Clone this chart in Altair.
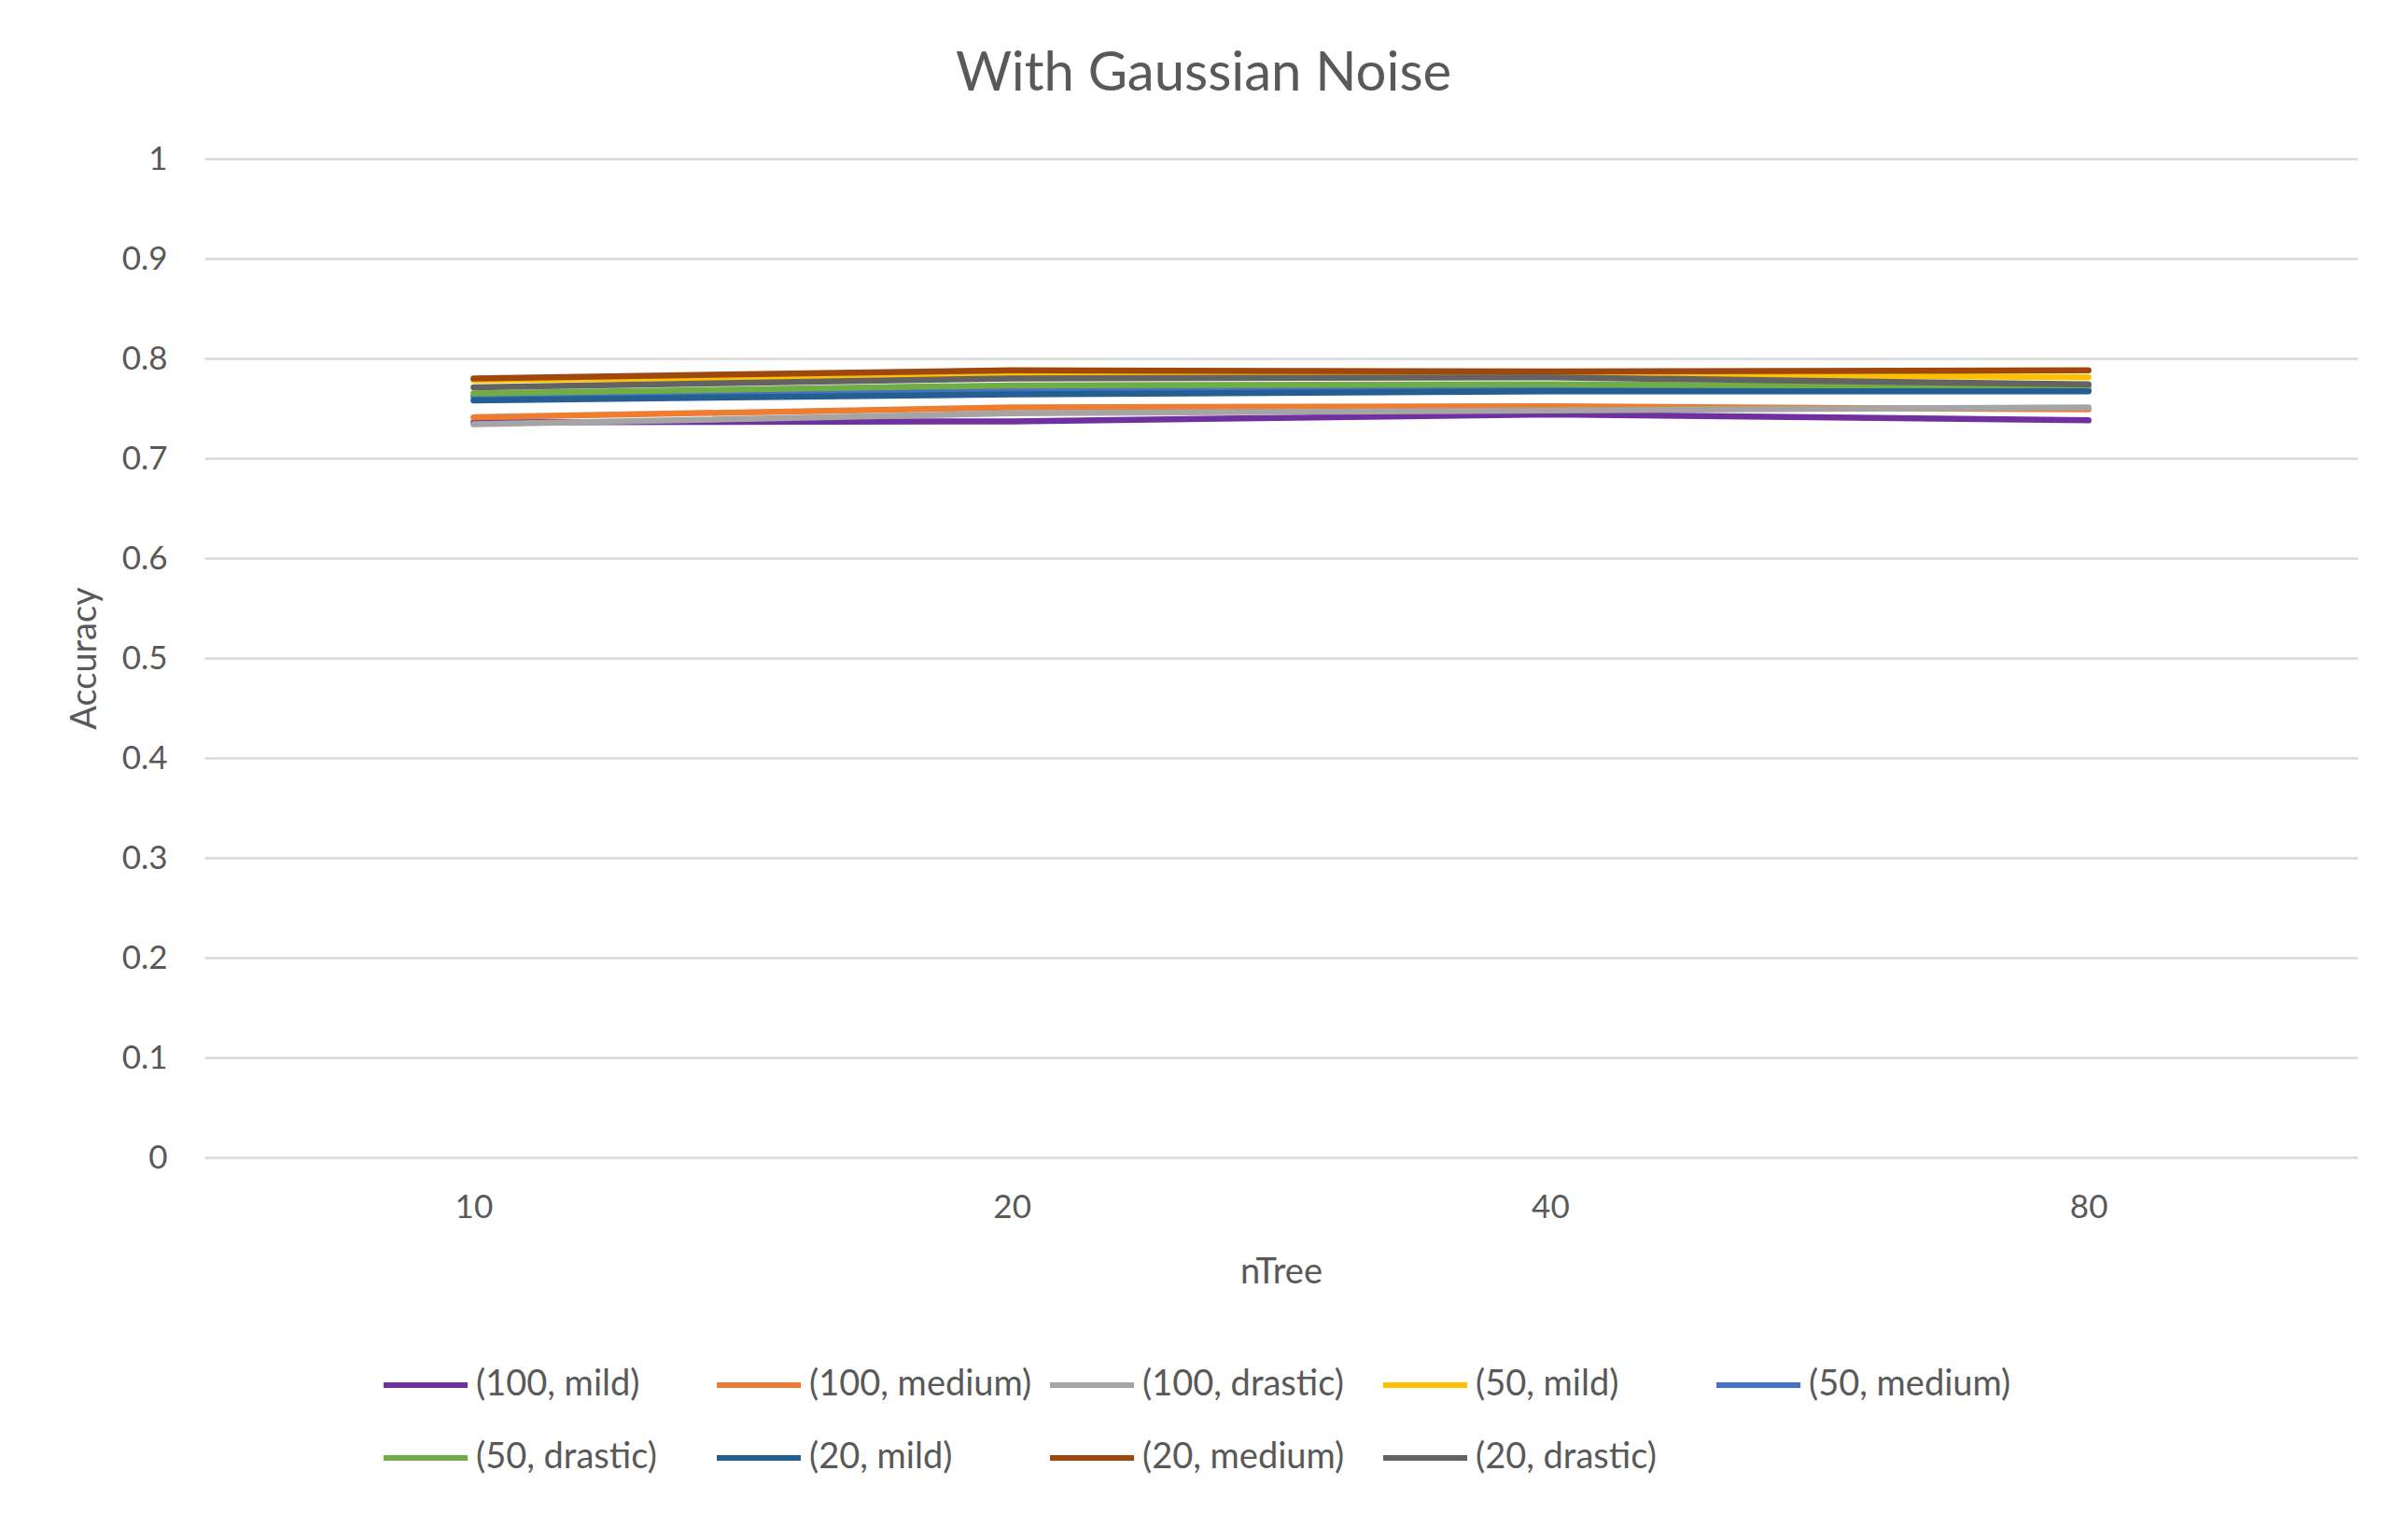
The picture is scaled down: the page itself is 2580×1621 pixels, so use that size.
import altair as alt
import pandas as pd

ntree = ["10", "20", "40", "80"]
series_names = ["(100, mild)", "(100, medium)", "(100, drastic)", "(50, mild)", "(50, medium)",
                "(50, drastic)", "(20, mild)", "(20, medium)", "(20, drastic)"]
colors = ["#7030A0", "#ED7D31", "#A5A5A5", "#FFC000", "#4472C4",
          "#70AD47", "#255E91", "#9E480E", "#636363"]

acc_100_mild = [0.736, 0.737, 0.744, 0.738]
acc_100_medium = [0.741, 0.751, 0.752, 0.749]
acc_100_drastic = [0.734, 0.745, 0.748, 0.751]
acc_50_mild = [0.778, 0.784, 0.785, 0.781]
acc_50_medium = [0.762, 0.769, 0.771, 0.768]
acc_50_drastic = [0.765, 0.773, 0.774, 0.772]
acc_20_mild = [0.758, 0.764, 0.767, 0.767]
acc_20_medium = [0.780, 0.788, 0.787, 0.788]
acc_20_drastic = [0.771, 0.780, 0.781, 0.774]

all_series = [acc_100_mild, acc_100_medium, acc_100_drastic, acc_50_mild, acc_50_medium,
              acc_50_drastic, acc_20_mild, acc_20_medium, acc_20_drastic]

rows = []
for i, (name, vals) in enumerate(zip(series_names, all_series)):
    for t, v in zip(ntree, vals):
        rows.append({"nTree": t, "Accuracy": v, "Series": name, "idx": i})
df = pd.DataFrame(rows)

FONT = "Lato"
TXT = "#595959"

chart = alt.Chart(df).mark_line(strokeWidth=6.5, strokeCap="round", strokeJoin="round").encode(
    x=alt.X("nTree:O", sort=ntree, scale=alt.Scale(type="point", padding=0.5),
            axis=alt.Axis(title="nTree", labelAngle=0, ticks=False, domain=False, grid=False,
                          labelFontSize=35, labelPadding=36, titleFontSize=38, titlePadding=33,
                          titleFontWeight="normal")),
    y=alt.Y("Accuracy:Q", scale=alt.Scale(domain=[0, 1], nice=False, zero=True),
            axis=alt.Axis(title="Accuracy", values=[i / 10 for i in range(11)], format=".1~f",
                          ticks=False, domain=False, grid=True, gridColor="#D9D9D9", gridWidth=2.5,
                          labelFontSize=35, labelPadding=40, titleFontSize=38, titlePadding=20,
                          titleFontWeight="normal")),
    color=alt.Color("Series:N", sort=series_names,
                    scale=alt.Scale(domain=series_names, range=colors),
                    legend=alt.Legend(title=None, orient="none", legendX=189, legendY=1266,
                                      direction="horizontal", columns=5, gridAlign="all",
                                      symbolType="stroke", symbolSize=8100, symbolStrokeWidth=6,
                                      labelFontSize=38, labelOffset=6, columnPadding=7,
                                      rowPadding=11, padding=0, labelLimit=400)),
    order=alt.Order("idx:Q"),
).properties(
    width=2307,
    height=1070,
    title=alt.TitleParams("With Gaussian Noise", fontSize=58, font=FONT, color=TXT,
                          fontWeight="normal", anchor="middle", dx=-83, offset=44),
    autosize=alt.AutoSizeParams(type="none"),
    padding={"left": 211, "top": 162, "right": 46, "bottom": 373},
).configure_axis(
    labelFont=FONT, titleFont=FONT, labelColor=TXT, titleColor=TXT,
).configure_legend(
    labelFont=FONT, labelColor=TXT,
).configure_view(stroke=None)

chart.save("out.html", embed_options={"renderer": "svg", "actions": False})
